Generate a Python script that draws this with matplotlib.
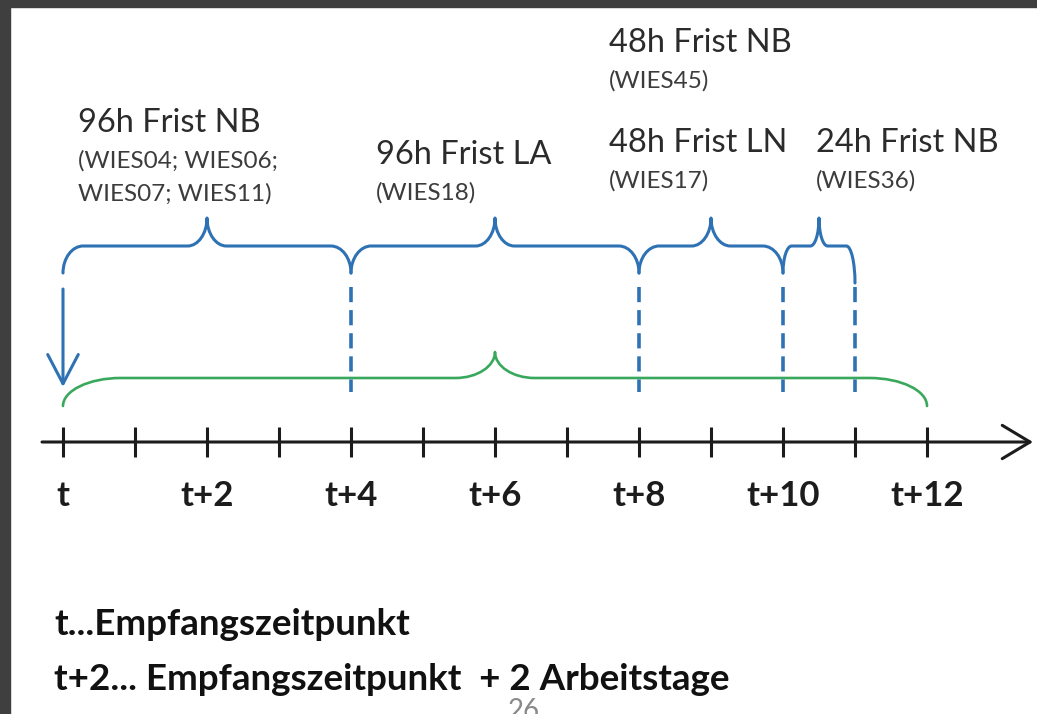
import matplotlib.pyplot as plt
import numpy as np
from matplotlib.path import Path
from matplotlib.patches import PathPatch, Rectangle

# working days after receipt
days = np.arange(13)
label_days = [0, 2, 4, 6, 8, 10, 12]
tick_labels = ['t', 't+2', 't+4', 't+6', 't+8', 't+10', 't+12']

# blue braces: one per deadline (start day, end day, tip day)
brace_start = [0, 4, 8, 10]
brace_end = [4, 8, 10, 11]
brace_tip = [2, 6, 9, 10.5]
dash_days = [4, 8, 10, 11]

# green brace over the whole range
total_start, total_end, total_tip = 0, 12, 6

titles = ['96h Frist NB', '96h Frist LA', '48h Frist LN', '24h Frist NB', '48h Frist NB']
codes = ['(WIES04; WIES06;\nWIES07; WIES11)', '(WIES18)', '(WIES17)', '(WIES36)', '(WIES45)']

legend_lines = ['t...Empfangszeitpunkt', 't+2... Empfangszeitpunkt  + 2 Arbeitstage']
page_no = '26'

BLUE = '#2e72b4'
GREEN = '#3aa85c'
INK = '#1c1c1c'

plt.rcParams['font.family'] = ['Lato', 'DejaVu Sans']

W, H = 1037, 714
X0, STEP = 63, 72.0   # pixel of day 0, pixels per day


def px(x):
    return (x - X0) / STEP


def brace(ax, x0, x1, tip, y, d_end, d_tip, r_end, r_tip, color, lw, d_end1=None, r_end1=None):
    k = 0.55
    if d_end1 is None:
        d_end1 = d_end
    if r_end1 is None:
        r_end1 = r_end
    verts = [(x0, y + d_end),
             (x0, y + d_end - k * d_end), (x0 + r_end - k * r_end, y), (x0 + r_end, y),
             (tip - r_tip, y),
             (tip - r_tip + k * r_tip, y), (tip, y - d_tip + k * d_tip), (tip, y - d_tip),
             (tip, y - d_tip + k * d_tip), (tip + r_tip - k * r_tip, y), (tip + r_tip, y),
             (x1 - r_end1, y),
             (x1 - r_end1 + k * r_end1, y), (x1, y + d_end1 - k * d_end1), (x1, y + d_end1)]
    cd = [Path.MOVETO] + [Path.CURVE4] * 3 + [Path.LINETO] + [Path.CURVE4] * 6 + \
         [Path.LINETO] + [Path.CURVE4] * 3
    ax.add_patch(PathPatch(Path(verts, cd), fill=False, edgecolor=color, lw=lw,
                           capstyle='round', joinstyle='round'))


fig = plt.figure(figsize=(W / 100, H / 100), dpi=100)
ax = fig.add_axes([0, 0, 1, 1])
ax.set_xlim(px(0), px(W))
ax.set_ylim(H, 0)
ax.axis('off')

# slide frame
fig.patches.append(Rectangle((0, 0), 10 / W, 1, transform=fig.transFigure, color='#3f3f3f'))
fig.patches.append(Rectangle((0, 1 - 7 / H), 1, 7 / H, transform=fig.transFigure, color='#3f3f3f'))

# time axis
ax.annotate('', xy=(px(1033), 442), xytext=(px(42), 442),
            arrowprops=dict(arrowstyle='->,head_length=1.0,head_width=0.6', lw=2.2,
                            color=INK, shrinkA=0, shrinkB=0, mutation_scale=20))
ax.vlines(days, 427, 457, color=INK, lw=2.2)
for d, lab in zip(label_days, tick_labels):
    ax.text(d, 506, lab, ha='center', va='baseline', fontsize=25, fontweight='bold', color=INK)

# blue braces
for i, (s, e, tp) in enumerate(zip(brace_start, brace_end, brace_tip)):
    last = i == len(brace_start) - 1
    r_tip = 0.12 if last else 0.27
    r_e = 0.12 if last else 0.28
    brace(ax, s, e, tp, 246, 27, 28, r_e, r_tip, BLUE, 2.2,
          d_end1=37 if last else 27, r_end1=r_e)

ax.vlines(dash_days, 287, 392, color=BLUE, lw=2.6, linestyles=(0, (4.2, 2.2)))
ax.annotate('', xy=(0, 387), xytext=(0, 289),
            arrowprops=dict(arrowstyle='->,head_length=1.05,head_width=0.55', lw=2.2,
                            color=BLUE, shrinkA=0, shrinkB=0, mutation_scale=20))

# green brace
brace(ax, total_start, total_end, total_tip, 378, 28, 26, 0.8, 0.55, GREEN, 1.9)

# deadline labels
title_pos = [(78, 132), (376, 164), (609, 152), (816, 152), (609, 52)]
for t, c, (x, y) in zip(titles, codes, title_pos):
    ax.text(px(x), y, t, ha='left', va='baseline', fontsize=23.5, color='#2b2b2b')
    for j, line in enumerate(c.split('\n')):
        ax.text(px(x), y + 36 + 33 * j, line, ha='left', va='baseline', fontsize=17.5,
                color='#3c3c3c')

# explanation
for j, line in enumerate(legend_lines):
    ax.text(px(54), 635 + 55 * j, line, ha='left', va='baseline', fontsize=26.5,
            fontweight='bold', color='#111111')
ax.text(px(524), 698, page_no, ha='center', va='top', fontsize=20, color='#8a8a8a')

fig.savefig('out.png', dpi=100)
